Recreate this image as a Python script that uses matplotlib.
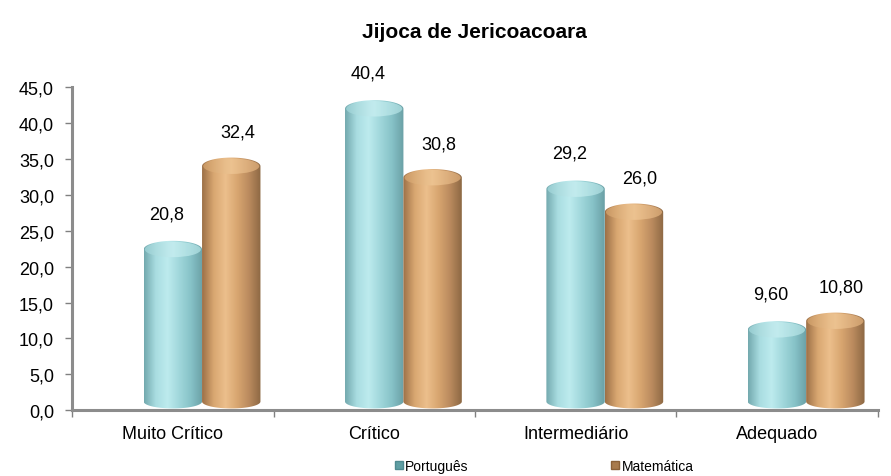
import numpy as np
import matplotlib.pyplot as plt
from matplotlib.colors import LinearSegmentedColormap
from matplotlib.patches import Polygon, Ellipse
from matplotlib.lines import Line2D

plt.rcParams['font.family'] = ['Liberation Sans', 'DejaVu Sans']

categories = ["Muito Crítico", "Crítico", "Intermediário", "Adequado"]
portugues = [20.8, 40.4, 29.2, 9.60]
matematica = [32.4, 30.8, 26.0, 10.80]
portugues_labels = ["20,8", "40,4", "29,2", "9,60"]
matematica_labels = ["32,4", "30,8", "26,0", "10,80"]
series_names = ["Português", "Matemática"]

teal_cmap = LinearSegmentedColormap.from_list(
    "teal", ["#73a9ae", "#a9dde1", "#bdebee", "#a0d7db", "#86c2c7", "#6a9fa5"])
tan_cmap = LinearSegmentedColormap.from_list(
    "tan", ["#9c7047", "#d9a771", "#ecbf8c", "#d8a670", "#ba8a5e", "#8c6843"])
teal_top = LinearSegmentedColormap.from_list("teal_top", ["#9bd0d4", "#c6eef0", "#a6d9dc"])
tan_top = LinearSegmentedColormap.from_list("tan_top", ["#cf9d67", "#efc694", "#d6a572"])

WIDTH = 0.29
RY = 1.2      # vertical semi-axis of the cylinder ellipses (data units)
LIFT = 1.6    # perspective lift of the top face


def cylinder(ax, xc, value, body_cmap, top_cmap):
    x0, x1 = xc - WIDTH / 2, xc + WIDTH / 2
    top = value + LIFT
    t = np.linspace(np.pi, 2 * np.pi, 60)
    bottom_arc = np.column_stack([xc + WIDTH / 2 * np.cos(t), RY + RY * np.sin(t) * 0.8])
    t2 = np.linspace(0, np.pi, 60)
    top_arc = np.column_stack([xc + WIDTH / 2 * np.cos(t2), top + RY * np.sin(t2)])
    outline = np.vstack([bottom_arc, top_arc])
    clip = Polygon(outline, closed=True, facecolor="none", edgecolor="none",
                   transform=ax.transData)
    ax.add_patch(clip)
    grad = np.linspace(0, 1, 256).reshape(1, -1)
    im = ax.imshow(grad, cmap=body_cmap, extent=(x0, x1, 0, top + RY),
                   aspect="auto", origin="lower", zorder=2, interpolation="bilinear")
    im.set_clip_path(clip)
    face = Ellipse((xc, top), WIDTH * 0.96, 2 * RY * 0.9, facecolor="none", edgecolor="none",
                   transform=ax.transData)
    ax.add_patch(face)
    im2 = ax.imshow(grad, cmap=top_cmap, extent=(x0, x1, top - RY, top + RY),
                    aspect="auto", origin="lower", zorder=3, interpolation="bilinear",
                    alpha=0.85)
    im2.set_clip_path(face)


fig = plt.figure(figsize=(8.91, 4.77), dpi=100)
ax = fig.add_axes([0.081, 0.138, 0.904, 0.677])

x = np.arange(len(categories))
offset = 0.29
for i in x:
    cylinder(ax, i, portugues[i], teal_cmap, teal_top)
    cylinder(ax, i + offset, matematica[i], tan_cmap, tan_top)
    ax.text(i - 0.03, portugues[i] + 6.6, portugues_labels[i], ha="center", va="center",
            fontsize=13)
    ax.text(i + offset + 0.03, matematica[i] + 6.3, matematica_labels[i], ha="center",
            va="center", fontsize=13)

ax.set_xlim(-0.5, len(categories) - 0.5)
ax.set_ylim(0, 45)
ax.set_yticks(np.arange(0, 46, 5))
ax.set_yticklabels([f"{v:.1f}".replace(".", ",") for v in np.arange(0, 46, 5)], fontsize=13)
ax.set_xticks(np.arange(-0.5, len(categories), 1.0))
ax.set_xticklabels([])
ax.set_xticks(x, minor=True)
ax.set_xticklabels(categories, minor=True, fontsize=13)
ax.tick_params(axis="x", which="minor", length=0, pad=11)
ax.tick_params(axis="both", which="major", direction="out", length=5, color="#808080",
               width=1)
ax.tick_params(axis="y", pad=8)

for side in ["top", "right"]:
    ax.spines[side].set_visible(False)
for side in ["left", "bottom"]:
    ax.spines[side].set_color("#8c8c8c")
    ax.spines[side].set_linewidth(2.2)

ax.set_title("Jijoca de Jericoacoara", fontsize=15, fontweight="bold", pad=36)

handles = [
    Line2D([], [], marker="s", linestyle="none", markersize=6,
           markerfacecolor="#5f9ea3", markeredgecolor="#4f8a90"),
    Line2D([], [], marker="s", linestyle="none", markersize=6,
           markerfacecolor="#a87a4c", markeredgecolor="#8a6038"),
]
fig.legend(handles, series_names, loc="lower left", ncol=2, frameon=False,
           bbox_to_anchor=(0.427, -0.02), fontsize=10, handletextpad=0.05,
           columnspacing=10.2, handlelength=0.8)

fig.savefig("out.png", dpi=100)
